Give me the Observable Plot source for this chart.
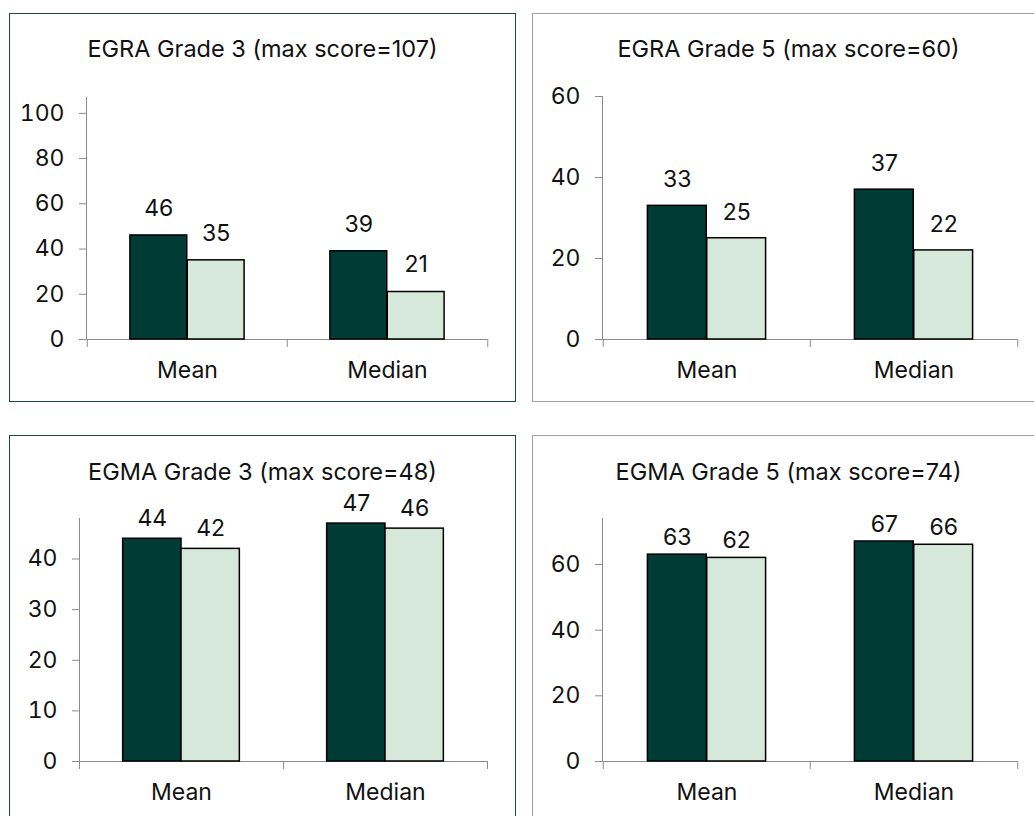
<!DOCTYPE html>
<html><head><meta charset="utf-8">
<script src="https://cdn.jsdelivr.net/npm/d3@7"></script>
<script src="https://cdn.jsdelivr.net/npm/@observablehq/plot@0.6"></script>
<style>
body{margin:0;background:#fff;width:1034px;height:816px;overflow:hidden;position:relative;font-family:Inter,"Noto Sans",sans-serif}
.panel{position:absolute;width:507px;height:389px;background:#fff}
.frame{position:absolute;left:0;top:0;width:507px;height:389px;box-sizing:border-box;pointer-events:none}
.title{position:absolute;left:0;right:0;text-align:center;font-size:23.5px;color:#111;line-height:1;white-space:nowrap}
.panel svg{position:absolute;left:0;top:0;overflow:visible}
</style></head><body>
<script>
// ---- data ----
const categories = ["Mean", "Median"];
const titles = [
  "EGRA Grade 3 (max score=107)",
  "EGRA Grade 5 (max score=60)",
  "EGMA Grade 3 (max score=48)",
  "EGMA Grade 5 (max score=74)"
];
const darkValues = [
  [46, 39],
  [33, 37],
  [44, 47],
  [63, 67]
];
const lightValues = [
  [35, 21],
  [25, 22],
  [42, 46],
  [62, 66]
];
const yMax = [107, 60, 48, 74];
const yTicks = [
  [0, 20, 40, 60, 80, 100],
  [0, 20, 40, 60],
  [0, 10, 20, 30, 40],
  [0, 20, 40, 60]
];

// ---- layout / style ----
const DARK = "#003b36", LIGHT = "#d6e8da", GREY = "#8c8c8c";
const FS = 23;
const layout = [
  {left: 9,   top: 13,  mL: 77, mR: 29, mT: 84, border: "#1e4a40", titleTop: 24, dy: -27},
  {left: 532, top: 13,  mL: 70, mR: 22, mT: 83, border: "#a0a0a0", titleTop: 24, dy: -26},
  {left: 9,   top: 435, mL: 70, mR: 29, mT: 83, border: "#1e4a40", titleTop: 25, dy: -20},
  {left: 532, top: 435, mL: 70, mR: 22, mT: 83, border: "#a0a0a0", titleTop: 25, dy: -17}
];
const W = 507, H = 389, mB = 63;

layout.forEach((L, p) => {
  const panel = document.createElement("div");
  panel.className = "panel";
  panel.style.left = L.left + "px";
  panel.style.top = L.top + "px";
  document.body.appendChild(panel);

  const rows = [];
  categories.forEach((c, i) => {
    rows.push({cat: c, series: "dark", v: darkValues[p][i]});
    rows.push({cat: c, series: "light", v: lightValues[p][i]});
  });
  const dark = rows.filter(d => d.series === "dark");
  const light = rows.filter(d => d.series === "light");

  const bw = (W - L.mL - L.mR) / categories.length;
  const edge = 0.214 * bw, mid = 0.5 * bw;
  const off = 0.143 * bw;

  const chart = Plot.plot({
    width: W, height: H,
    marginLeft: L.mL, marginRight: L.mR, marginTop: L.mT, marginBottom: mB,
    style: {fontFamily: "Inter, 'Noto Sans', sans-serif", fontSize: FS + "px", color: "#111", background: "transparent"},
    x: {domain: categories, padding: 0, axis: null, label: null},
    y: {domain: [0, yMax[p]], axis: null, label: null},
    marks: [
      Plot.frame({anchor: "left", stroke: GREY, strokeWidth: 1}),
      Plot.axisY({ticks: yTicks[p], tickSize: 7, tickPadding: 15, stroke: GREY, fill: "#111", fontSize: FS, tickFormat: d => d, label: null}),
      Plot.ruleY([0], {stroke: GREY, strokeWidth: 1}),
      Plot.axisX({ticks: categories, tickSize: 8, tickFormat: () => "", stroke: GREY, dx: -bw / 2, label: null}),
      Plot.axisX({ticks: [categories[categories.length - 1]], tickSize: 8, tickFormat: () => "", stroke: GREY, dx: bw / 2, label: null}),
      Plot.axisX({ticks: categories, tickSize: 0, tickPadding: 22, fill: "#111", fontSize: FS, label: null}),
      Plot.barY(dark, {x: "cat", y: "v", fill: DARK, stroke: "#000", strokeWidth: 1.5, insetLeft: edge, insetRight: mid}),
      Plot.barY(light, {x: "cat", y: "v", fill: LIGHT, stroke: "#000", strokeWidth: 1.5, insetLeft: mid, insetRight: edge}),
      Plot.text(dark, {x: "cat", y: "v", text: d => String(d.v), dx: -off, dy: L.dy, fill: "#111", fontSize: FS}),
      Plot.text(light, {x: "cat", y: "v", text: d => String(d.v), dx: off, dy: L.dy, fill: "#111", fontSize: FS})
    ]
  });
  panel.appendChild(chart);

  const t = document.createElement("div");
  t.className = "title";
  t.style.top = L.titleTop + "px";
  t.style.paddingLeft = (p % 2 === 0 ? 0 : 6) + "px";
  t.textContent = titles[p];
  panel.appendChild(t);

  const f = document.createElement("div");
  f.className = "frame";
  f.style.border = "1.5px solid " + L.border;
  panel.appendChild(f);
});
</script>
</body></html>
